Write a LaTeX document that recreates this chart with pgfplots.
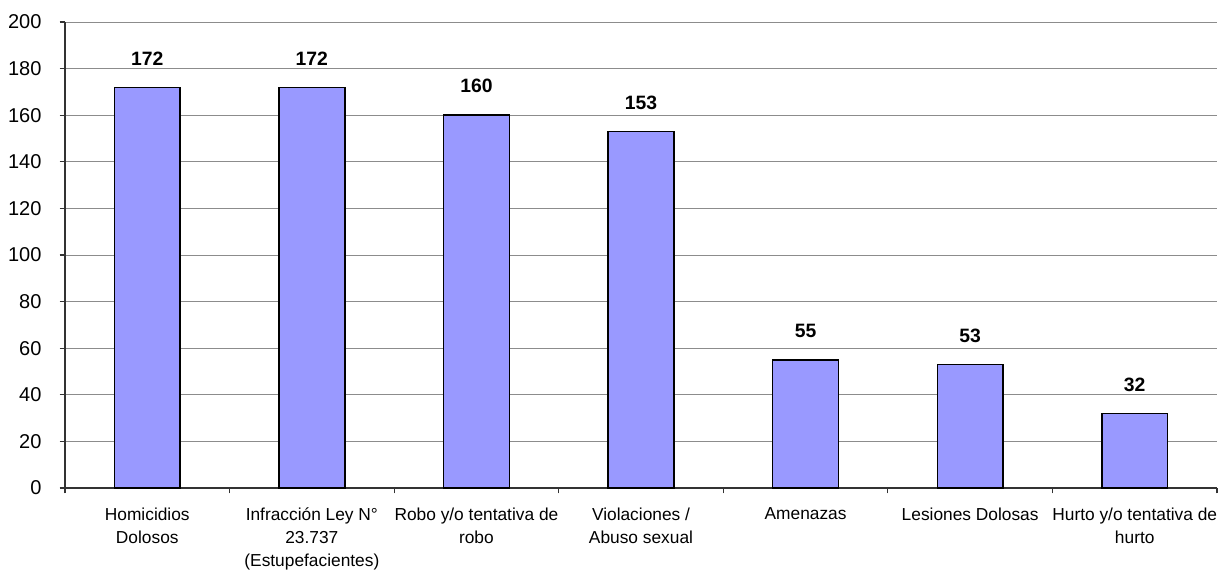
\documentclass[border=0pt]{standalone}
\usepackage{pgfplots}
\pgfplotsset{compat=1.18}
\usepackage{fontspec}
\setmainfont{Liberation Sans}
\definecolor{barblue}{HTML}{9999FF}
\definecolor{gridgray}{HTML}{8C8C8C}
\begin{document}
\begin{tikzpicture}
\useasboundingbox (-48.75pt,-62.25pt) rectangle (865.5pt,366pt);
\begin{axis}[
  scale only axis,
  width=864pt, height=349.5pt,
  xmin=-0.5, xmax=6.5,
  ymin=0, ymax=200,
  ytick={0,20,...,200},
  xtick={0,...,6},
  xticklabels={{Homicidios\\Dolosos},{Infracción Ley N°\\23.737\\(Estupefacientes)},{Robo y/o tentativa de\\robo},{Violaciones /\\Abuso sexual},{Amenazas},{Lesiones Dolosas},{Hurto y/o tentativa de\\hurto}},
  minor xtick={-0.5,0.5,...,6.5},
  major x tick style={draw=none},
  axis x line*=bottom, axis y line*=left,
  axis line style={draw=black!80, line width=0.9pt, -},
  tick align=outside,
  major tick length=4pt, minor tick length=4pt,
  every tick/.style={draw=black!80, line width=0.8pt},
  ymajorgrids,
  major grid style={draw=gridgray, line width=0.6pt},
  /pgf/number format/assume math mode=true,
  yticklabel style={font=\fontsize{15}{17}\selectfont, inner sep=0pt, xshift=-13.5pt},
  xticklabel style={font=\fontsize{13}{17.25}\selectfont, align=center, anchor=north, inner sep=0pt, yshift=-10.5pt},
  bar width=0.4,
  nodes near coords,
  every node near coord/.append style={font=\fontsize{14.5}{16}\selectfont\bfseries, inner sep=0pt, anchor=south, yshift=16pt},
  clip=false,
]
\addplot[ybar, fill=barblue, draw=black, line width=1.1pt] coordinates {
  (0,172) (1,172) (2,160) (3,153) (4,55) (5,53) (6,32)
};
\end{axis}
\end{tikzpicture}
\end{document}
